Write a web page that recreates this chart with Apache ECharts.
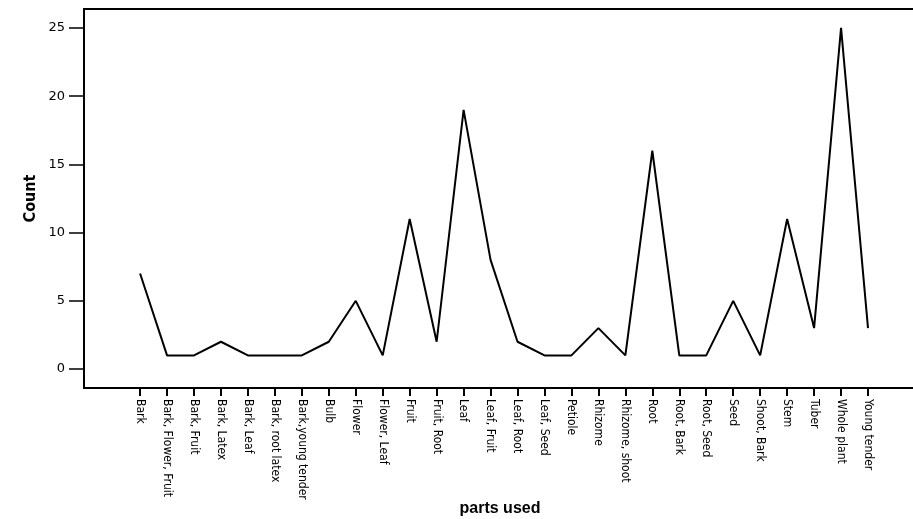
<!DOCTYPE html>
<html>
<head>
<meta charset="utf-8">
<script src="https://cdn.jsdelivr.net/npm/echarts@6/dist/echarts.min.js"></script>
<style>html,body{margin:0;padding:0;background:#fff}#c{width:913px;height:519px}</style>
</head>
<body>
<div id="c"></div>
<script>
var categories = ["Bark","Bark, Flower, Fruit","Bark, Fruit","Bark, Latex","Bark, Leaf","Bark, root latex","Bark,young tender","Bulb","Flower","Flower, Leaf","Fruit","Fruit, Root","Leaf","Leaf, Fruit","Leaf, Root","Leaf, Seed","Petiole","Rhizome","Rhizome, shoot","Root","Root, Bark","Root, Seed","Seed","Shoot, Bark","Stem","Tuber","Whole plant","Young tender"];
var counts = [7,1,1,2,1,1,1,2,5,1,11,2,19,8,2,1,1,3,1,16,1,1,5,1,11,3,25,3];
var yTicks = [0,5,10,15,20,25];

var narrow = '"Liberation Sans Narrow", "DejaVu Sans Condensed", "Liberation Sans", sans-serif';
var chart = echarts.init(document.getElementById('c'));
var idx = categories.map(function(_, i){ return i; });
chart.setOption({
  animation: false,
  backgroundColor: '#fff',
  grid: {left: 84, right: -3, top: 9, bottom: 131, show: true, borderColor: '#000', borderWidth: 2,
    containLabel: false, outerBoundsMode: 'none'},
  xAxis: {
    type: 'value', min: -2.08, max: 28.78,
    name: 'parts used', nameLocation: 'middle', nameGap: 113, nameMoveOverlap: false,
    nameTextStyle: {fontFamily: 'Liberation Sans', fontWeight: 'bold', fontSize: 16, color: '#000'},
    axisLine: {show: true, onZero: false, lineStyle: {color: '#000', width: 2}},
    axisTick: {show: true, customValues: idx, length: 8, inside: false, lineStyle: {color: '#000', width: 2}},
    axisLabel: {customValues: idx, rotate: -90, margin: 11, color: '#000', fontFamily: narrow, fontSize: 12,
      formatter: function(v){ return categories[Math.round(v)]; }},
    splitLine: {show: false}
  },
  yAxis: {
    type: 'value', min: -1.39, max: 26.39,
    name: 'Count', nameLocation: 'middle', nameGap: 45, nameMoveOverlap: false,
    nameTextStyle: {fontFamily: narrow, fontWeight: 'bold', fontSize: 16, color: '#000'},
    axisLine: {show: true, onZero: false, lineStyle: {color: '#000', width: 2}},
    axisTick: {show: true, customValues: yTicks, length: 15, lineStyle: {color: '#000', width: 1.5}},
    axisLabel: {customValues: yTicks, margin: 19, color: '#000', fontFamily: '"DejaVu Sans", sans-serif', fontSize: 13},
    splitLine: {show: false}
  },
  series: [{
    type: 'line',
    data: counts.map(function(v, i){ return [i, v]; }),
    showSymbol: false, symbol: 'none',
    lineStyle: {color: '#000', width: 2},
    itemStyle: {color: '#000'}
  }]
});
</script>
</body>
</html>
